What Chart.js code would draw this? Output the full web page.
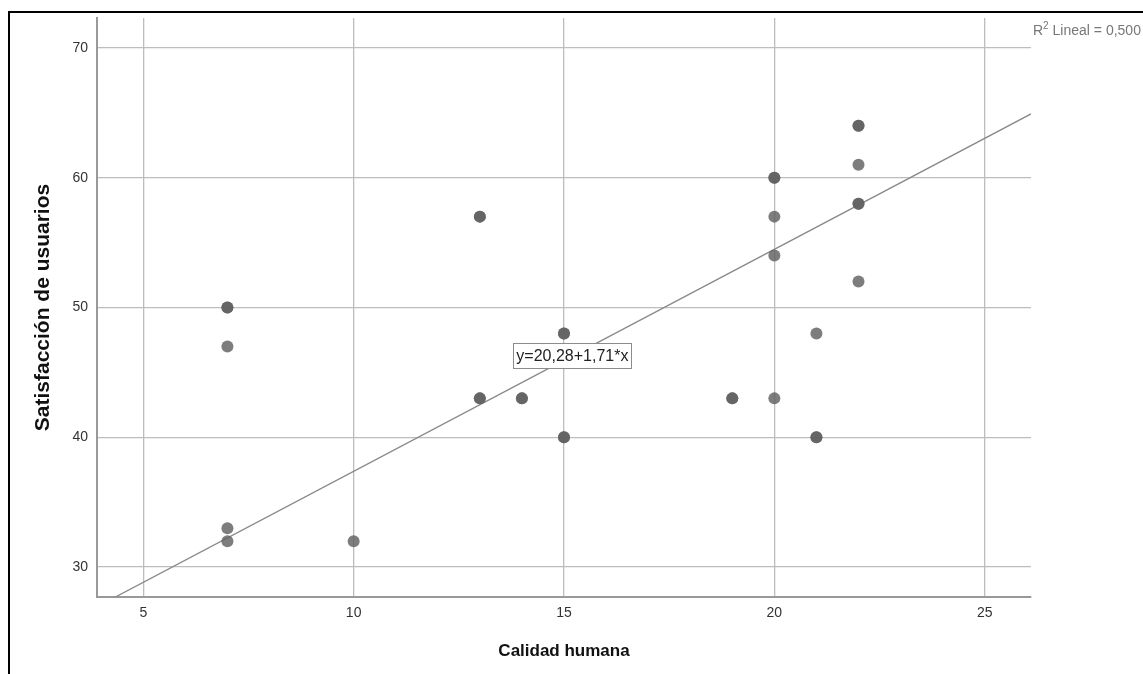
<!DOCTYPE html>
<html>
<head>
<meta charset="utf-8">
<title>Satisfacción de usuarios vs Calidad humana</title>
<script src="https://cdn.jsdelivr.net/npm/chart.js@4.4.0/dist/chart.umd.min.js"></script>
<style>
  html, body { margin: 0; padding: 0; background: #fff; }
  #wrap { width: 1143px; height: 674px; position: relative; }
</style>
</head>
<body>
<div id="wrap"><canvas id="scatterChart"></canvas></div>
<script>
// Calidad humana (x) / Satisfacción de usuarios (y), repeated pairs are overlapping cases
const calidadHumana = [7, 7, 7, 7, 7, 10, 13, 13, 13, 13, 14, 14, 15, 15, 15, 15, 19, 19, 20, 20, 20, 20, 20, 21, 21, 21, 22, 22, 22, 22, 22, 22];
const satisfaccion = [50, 50, 47, 33, 32, 32, 57, 57, 43, 43, 43, 43, 48, 48, 40, 40, 43, 43, 60, 60, 57, 54, 43, 48, 40, 40, 64, 64, 61, 58, 58, 52];

const xTicks = [5, 10, 15, 20, 25];
const yTicks = [30, 40, 50, 60, 70];
const xRange = [3.9, 26.1];
const yRange = [27.7, 72.3];

// fit line from the reference: y = 20,28 + 1,71*x
const intercept = 20.28;
const slope = 1.71;
const equationText = "y=20,28+1,71*x";
const r2Text = " Lineal = 0,500";

Chart.defaults.font.family = "'Liberation Sans', Arial, sans-serif";

const points = calidadHumana.map(function (x, i) {
  return { x: x, y: satisfaccion[i] };
});
const fitLine = xRange.map(function (x) {
  return { x: x, y: intercept + slope * x };
});

const extrasPlugin = {
  id: "extras",
  beforeDraw: function (chart) {
    const ctx = chart.ctx;
    ctx.save();
    ctx.strokeStyle = "#000";
    ctx.lineWidth = 2;
    ctx.beginPath();
    ctx.moveTo(9, chart.height);
    ctx.lineTo(9, 12);
    ctx.lineTo(chart.width, 12);
    ctx.stroke();
    ctx.restore();
  },
  afterDraw: function (chart) {
    const ctx = chart.ctx;
    const xs = chart.scales.x;
    const ys = chart.scales.y;
    const area = chart.chartArea;
    ctx.save();

    // equation label
    ctx.font = "16px 'Liberation Sans', Arial, sans-serif";
    const cx = xs.getPixelForValue(15.2);
    const cy = ys.getPixelForValue(46.3);
    const w = Math.round(ctx.measureText(equationText).width + 6);
    const h = 25;
    const bx = Math.round(cx - w / 2) + 0.5;
    const by = Math.round(cy - h / 2) + 0.5;
    ctx.fillStyle = "#fff";
    ctx.fillRect(bx, by, w, h);
    ctx.strokeStyle = "#8c8c8c";
    ctx.lineWidth = 1;
    ctx.strokeRect(bx, by, w, h);
    ctx.fillStyle = "#222";
    ctx.textAlign = "center";
    ctx.textBaseline = "middle";
    ctx.fillText(equationText, cx, cy + 1);

    // R2 note
    ctx.textAlign = "left";
    ctx.textBaseline = "alphabetic";
    ctx.fillStyle = "#777";
    let tx = area.right + 2;
    const ty = 35;
    ctx.font = "14px 'Liberation Sans', Arial, sans-serif";
    ctx.fillText("R", tx, ty);
    tx += ctx.measureText("R").width;
    ctx.font = "10px 'Liberation Sans', Arial, sans-serif";
    ctx.fillText("2", tx, ty - 6);
    tx += ctx.measureText("2").width;
    ctx.font = "14px 'Liberation Sans', Arial, sans-serif";
    ctx.fillText(r2Text, tx, ty);
    ctx.restore();
  },
};

const ctx = document.getElementById("scatterChart").getContext("2d");
new Chart(ctx, {
  type: "scatter",
  data: {
    datasets: [
      {
        label: "Casos",
        data: points,
        backgroundColor: "rgba(96, 96, 96, 0.82)",
        borderWidth: 0,
        pointRadius: 6,
        pointHoverRadius: 6,
        order: 0,
      },
      {
        type: "line",
        label: "Lineal",
        data: fitLine,
        borderColor: "#8a8a8a",
        borderWidth: 1.3,
        pointRadius: 0,
        fill: false,
        order: 1,
      },
    ],
  },
  options: {
    responsive: true,
    maintainAspectRatio: false,
    animation: false,
    layout: {
      padding: { left: 31, top: 18, right: 112, bottom: 12 },
    },
    plugins: {
      legend: { display: false },
      tooltip: { enabled: false },
    },
    scales: {
      x: {
        type: "linear",
        min: xRange[0],
        max: xRange[1],
        afterBuildTicks: function (scale) {
          scale.ticks = xTicks.map(function (v) { return { value: v }; });
        },
        afterFit: function (scale) {
          scale.height = 65;
        },
        grid: { color: "#bdbdbd", lineWidth: 1.3, drawTicks: false },
        border: { color: "#999", width: 2 },
        ticks: {
          color: "#333",
          font: { size: 14 },
          padding: 8,
        },
        title: {
          display: true,
          text: "Calidad humana",
          color: "#111",
          font: { size: 17, weight: "bold" },
          padding: 0,
        },
      },
      y: {
        type: "linear",
        min: yRange[0],
        max: yRange[1],
        afterBuildTicks: function (scale) {
          scale.ticks = yTicks.map(function (v) { return { value: v }; });
        },
        afterFit: function (scale) {
          scale.width = 66;
        },
        grid: { color: "#bdbdbd", lineWidth: 1.3, drawTicks: false },
        border: { color: "#999", width: 2 },
        ticks: {
          color: "#333",
          font: { size: 14 },
          padding: 9,
        },
        title: {
          display: true,
          text: "Satisfacción de usuarios",
          color: "#111",
          font: { size: 21, weight: "bold" },
          padding: 0,
        },
      },
    },
  },
  plugins: [extrasPlugin],
});
</script>
</body>
</html>
